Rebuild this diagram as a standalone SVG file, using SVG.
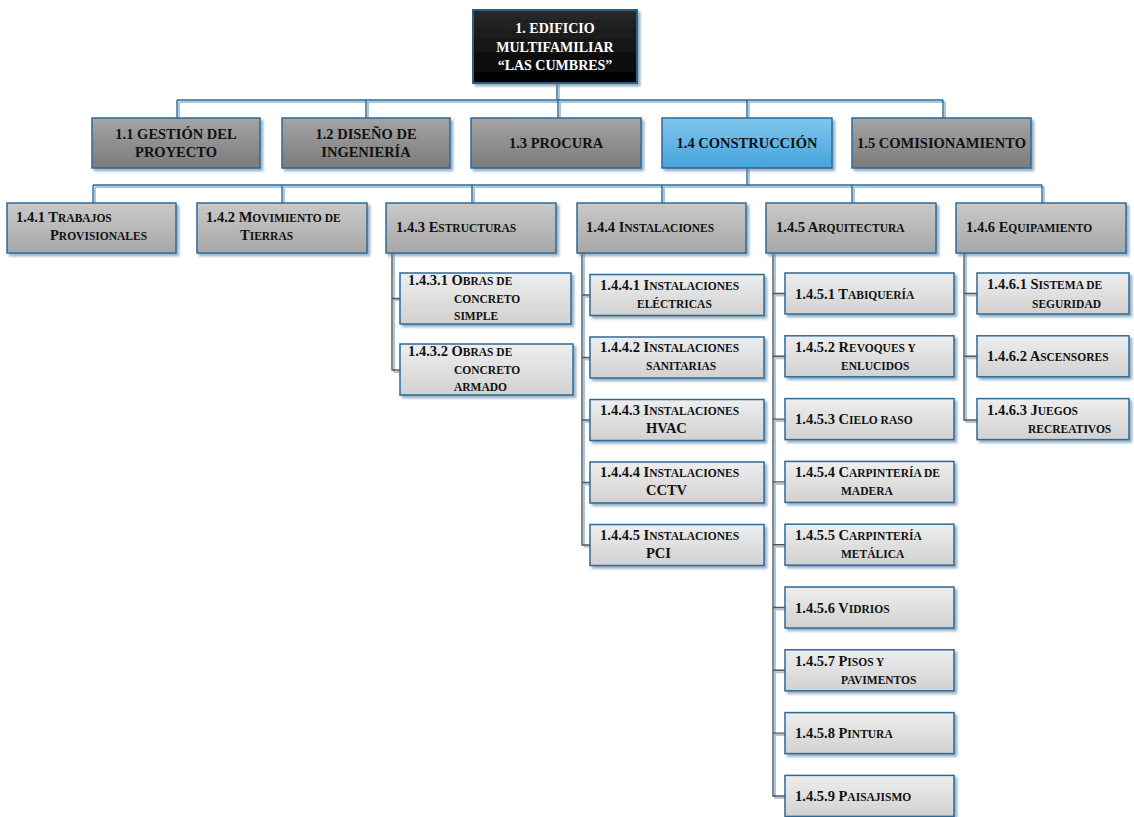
<svg xmlns="http://www.w3.org/2000/svg" width="1134" height="817" viewBox="0 0 1134 817">
  <defs>
    <linearGradient id="gTop" x1="0" y1="0" x2="0" y2="1">
      <stop offset="0" stop-color="#2a2a2a"/>
      <stop offset="1" stop-color="#000000"/>
    </linearGradient>
    <linearGradient id="g2" x1="0" y1="0" x2="0" y2="1">
      <stop offset="0" stop-color="#a4a4a4"/>
      <stop offset="1" stop-color="#7b7b7b"/>
    </linearGradient>
    <linearGradient id="gBlue" x1="0" y1="0" x2="0" y2="1">
      <stop offset="0" stop-color="#80c6ee"/>
      <stop offset="1" stop-color="#45a3dc"/>
    </linearGradient>
    <linearGradient id="g3" x1="0" y1="0" x2="0" y2="1">
      <stop offset="0" stop-color="#c9c9c9"/>
      <stop offset="1" stop-color="#a7a7a7"/>
    </linearGradient>
    <linearGradient id="g4" x1="0" y1="0" x2="0" y2="1">
      <stop offset="0" stop-color="#eeeeee"/>
      <stop offset="1" stop-color="#d1d1d1"/>
    </linearGradient>
    <filter id="shadow" x="-10%" y="-10%" width="125%" height="135%">
      <feDropShadow dx="2.5" dy="2.5" stdDeviation="0.8" flood-color="#5d86a8" flood-opacity="0.65"/>
    </filter>
    <style>
      .box { stroke: #2e6a96; stroke-width: 1.5; filter: url(#shadow); }
      .top { fill: url(#gTop); stroke: #2b5f88; stroke-width: 2; }
      .l2 { fill: url(#g2); }
      .blue { fill: url(#gBlue); }
      .l3 { fill: url(#g3); }
      .l4 { fill: url(#g4); }
      text { font-family: "Liberation Serif", "Times New Roman", serif; font-weight: bold; font-size: 14.5px; fill: #111; }
      .c { text-anchor: middle; }
      .w { fill: #ffffff; font-size: 14px; }
      .sc { font-size: 11.5px; }
      .ln { fill: none; stroke: #2f6690; stroke-width: 1.4; }
      .lnS { fill: none; stroke: #a9c6dd; stroke-width: 2; }
      .lg { fill: none; stroke: #555555; stroke-width: 1.4; }
    </style>
  </defs>

  <!-- connectors -->
  <g id="connectors">
    <!-- level 1 to level 2 -->
    <path class="lnS" d="M559 84 V102 M179 102 H945 M179 102 V118 M368 102 V118 M560 102 V118 M749 102 V118 M945 102 V118"/>
    <path class="ln" d="M557 83 V100 M177 100 H943 M177 100 V118 M366 100 V118 M558 100 V118 M747 100 V118 M943 100 V118"/>
    <!-- level 2 to level 3 -->
    <path class="lnS" d="M749 169 V187 M95 187 H1044 M95 187 V203 M284 187 V203 M474 187 V203 M664 187 V203 M854 187 V203 M1044 187 V203"/>
    <path class="ln" d="M747 168 V185 M93 185 H1042 M93 185 V203 M282 185 V203 M472 185 V203 M662 185 V203 M852 185 V203 M1042 185 V203"/>
    <!-- 1.4.3 children -->
    <path class="lnS" d="M394 254 V372 M394 300 H400 M394 372 H400"/>
    <path class="lg" d="M392 253 V370 H400 M392 298.5 H400"/>
    <!-- 1.4.4 children -->
    <path class="lnS" d="M584 254 V546 M584 297 H590 M584 359.5 H590 M584 422 H590 M584 484.5 H590 M584 546.5 H590"/>
    <path class="lg" d="M582 253 V545 H590 M582 295 H590 M582 357.5 H590 M582 420 H590 M582 482.5 H590"/>
    <!-- 1.4.5 children -->
    <path class="lnS" d="M775 254 V798 M775 295.5 H785 M775 358.3 H785 M775 421.1 H785 M775 483.9 H785 M775 546.7 H785 M775 609.5 H785 M775 672.3 H785 M775 735.1 H785 M775 798 H785"/>
    <path class="lg" d="M773 253 V796 H785 M773 293.5 H785 M773 356.3 H785 M773 419.1 H785 M773 481.9 H785 M773 544.7 H785 M773 607.5 H785 M773 670.3 H785 M773 733.1 H785"/>
    <!-- 1.4.6 children -->
    <path class="lnS" d="M966 254 V422 M966 295.5 H977 M966 358.3 H977 M966 422 H977"/>
    <path class="lg" d="M964 253 V420 H977 M964 293.5 H977 M964 356.3 H977"/>
  </g>

  <!-- level 1 -->
  <g id="n1">
    <rect class="box top" x="473" y="10" width="164" height="73"/>
    <text class="c w" x="555" y="33">1. EDIFICIO</text>
    <text class="c w" x="555" y="51.5">MULTIFAMILIAR</text>
    <text class="c w" x="555" y="70">“LAS CUMBRES”</text>
  </g>

  <!-- level 2 -->
  <g id="n1_1">
    <rect class="box l2" x="92" y="118" width="168" height="50"/>
    <text class="c" x="176" y="139">1.1 GESTIÓN DEL</text>
    <text class="c" x="176" y="157">PROYECTO</text>
  </g>
  <g id="n1_2">
    <rect class="box l2" x="282" y="118" width="168" height="50"/>
    <text class="c" x="366" y="139">1.2 DISEÑO DE</text>
    <text class="c" x="366" y="157">INGENIERÍA</text>
  </g>
  <g id="n1_3">
    <rect class="box l2" x="471" y="118" width="170" height="50"/>
    <text class="c" x="556" y="148">1.3 PROCURA</text>
  </g>
  <g id="n1_4">
    <rect class="box blue" x="662" y="118" width="170" height="50"/>
    <text class="c" x="747" y="148">1.4 CONSTRUCCIÓN</text>
  </g>
  <g id="n1_5">
    <rect class="box l2" x="852" y="118" width="179" height="50"/>
    <text class="c" x="941.5" y="148">1.5 COMISIONAMIENTO</text>
  </g>

  <!-- level 3 -->
  <g id="n1_4_1">
    <rect class="box l3" x="7" y="203" width="169" height="50"/>
    <text x="16" y="222">1.4.1 T<tspan class="sc">RABAJOS</tspan></text>
    <text x="50" y="240">P<tspan class="sc">ROVISIONALES</tspan></text>
  </g>
  <g id="n1_4_2">
    <rect class="box l3" x="197" y="203" width="170" height="50"/>
    <text x="206" y="222">1.4.2 M<tspan class="sc">OVIMIENTO DE</tspan></text>
    <text x="240" y="240">T<tspan class="sc">IERRAS</tspan></text>
  </g>
  <g id="n1_4_3">
    <rect class="box l3" x="386" y="203" width="170" height="50"/>
    <text x="396" y="232">1.4.3 E<tspan class="sc">STRUCTURAS</tspan></text>
  </g>
  <g id="n1_4_4">
    <rect class="box l3" x="577" y="203" width="169" height="50"/>
    <text x="586" y="232">1.4.4 I<tspan class="sc">NSTALACIONES</tspan></text>
  </g>
  <g id="n1_4_5">
    <rect class="box l3" x="766" y="203" width="170" height="50"/>
    <text x="776" y="232">1.4.5 A<tspan class="sc">RQUITECTURA</tspan></text>
  </g>
  <g id="n1_4_6">
    <rect class="box l3" x="956" y="203" width="170" height="50"/>
    <text x="966" y="232">1.4.6 E<tspan class="sc">QUIPAMIENTO</tspan></text>
  </g>

  <!-- 1.4.3 children -->
  <g id="n1_4_3_1">
    <rect class="box l4" x="400" y="273" width="171" height="51"/>
    <text x="408" y="285">1.4.3.1 O<tspan class="sc">BRAS DE</tspan></text>
    <text class="sc" x="454" y="302.5">CONCRETO</text>
    <text class="sc" x="454" y="320">SIMPLE</text>
  </g>
  <g id="n1_4_3_2">
    <rect class="box l4" x="400" y="344" width="173" height="51"/>
    <text x="408" y="356">1.4.3.2 O<tspan class="sc">BRAS DE</tspan></text>
    <text class="sc" x="454" y="373.5">CONCRETO</text>
    <text class="sc" x="454" y="391">ARMADO</text>
  </g>

  <!-- 1.4.4 children -->
  <g id="n1_4_4_1">
    <rect class="box l4" x="590" y="274.5" width="174" height="41"/>
    <text x="600" y="289.5">1.4.4.1 I<tspan class="sc">NSTALACIONES</tspan></text>
    <text class="sc" x="637" y="307.5">ELÉCTRICAS</text>
  </g>
  <g id="n1_4_4_2">
    <rect class="box l4" x="590" y="337" width="174" height="41"/>
    <text x="600" y="352">1.4.4.2 I<tspan class="sc">NSTALACIONES</tspan></text>
    <text class="sc" x="646" y="370">SANITARIAS</text>
  </g>
  <g id="n1_4_4_3">
    <rect class="box l4" x="590" y="399.5" width="174" height="41"/>
    <text x="600" y="414.5">1.4.4.3 I<tspan class="sc">NSTALACIONES</tspan></text>
    <text x="646" y="432.5">HVAC</text>
  </g>
  <g id="n1_4_4_4">
    <rect class="box l4" x="590" y="462" width="174" height="41"/>
    <text x="600" y="477">1.4.4.4 I<tspan class="sc">NSTALACIONES</tspan></text>
    <text x="646" y="495">CCTV</text>
  </g>
  <g id="n1_4_4_5">
    <rect class="box l4" x="590" y="524.5" width="174" height="41"/>
    <text x="600" y="539.5">1.4.4.5 I<tspan class="sc">NSTALACIONES</tspan></text>
    <text x="646" y="557.5">PCI</text>
  </g>

  <!-- 1.4.5 children -->
  <g id="n1_4_5_1">
    <rect class="box l4" x="785" y="273" width="169" height="41"/>
    <text x="795" y="298.5">1.4.5.1 T<tspan class="sc">ABIQUERÍA</tspan></text>
  </g>
  <g id="n1_4_5_2">
    <rect class="box l4" x="785" y="335.8" width="169" height="41"/>
    <text x="795" y="351.8">1.4.5.2 R<tspan class="sc">EVOQUES Y</tspan></text>
    <text class="sc" x="841" y="369.8">ENLUCIDOS</text>
  </g>
  <g id="n1_4_5_3">
    <rect class="box l4" x="785" y="398.6" width="169" height="41"/>
    <text x="795" y="424">1.4.5.3 C<tspan class="sc">IELO RASO</tspan></text>
  </g>
  <g id="n1_4_5_4">
    <rect class="box l4" x="785" y="461.4" width="169" height="41"/>
    <text x="795" y="477.4">1.4.5.4 C<tspan class="sc">ARPINTERÍA DE</tspan></text>
    <text class="sc" x="841" y="495.4">MADERA</text>
  </g>
  <g id="n1_4_5_5">
    <rect class="box l4" x="785" y="524.2" width="169" height="41"/>
    <text x="795" y="540.2">1.4.5.5 C<tspan class="sc">ARPINTERÍA</tspan></text>
    <text class="sc" x="841" y="558.2">METÁLICA</text>
  </g>
  <g id="n1_4_5_6">
    <rect class="box l4" x="785" y="587" width="169" height="41"/>
    <text x="795" y="612.5">1.4.5.6 V<tspan class="sc">IDRIOS</tspan></text>
  </g>
  <g id="n1_4_5_7">
    <rect class="box l4" x="785" y="649.8" width="169" height="41"/>
    <text x="795" y="665.8">1.4.5.7 P<tspan class="sc">ISOS Y</tspan></text>
    <text class="sc" x="841" y="683.8">PAVIMENTOS</text>
  </g>
  <g id="n1_4_5_8">
    <rect class="box l4" x="785" y="712.6" width="169" height="41"/>
    <text x="795" y="738">1.4.5.8 P<tspan class="sc">INTURA</tspan></text>
  </g>
  <g id="n1_4_5_9">
    <rect class="box l4" x="785" y="775.4" width="169" height="41"/>
    <text x="795" y="801">1.4.5.9 P<tspan class="sc">AISAJISMO</tspan></text>
  </g>

  <!-- 1.4.6 children -->
  <g id="n1_4_6_1">
    <rect class="box l4" x="977" y="273" width="152" height="41"/>
    <text x="987" y="289">1.4.6.1 S<tspan class="sc">ISTEMA DE</tspan></text>
    <text class="sc" x="1032" y="307.5">SEGURIDAD</text>
  </g>
  <g id="n1_4_6_2">
    <rect class="box l4" x="977" y="335.8" width="152" height="41"/>
    <text x="987" y="361">1.4.6.2 A<tspan class="sc">SCENSORES</tspan></text>
  </g>
  <g id="n1_4_6_3">
    <rect class="box l4" x="977" y="398.6" width="152" height="41"/>
    <text x="987" y="414.6">1.4.6.3 J<tspan class="sc">UEGOS</tspan></text>
    <text class="sc" x="1028" y="432.6">RECREATIVOS</text>
  </g>
</svg>
